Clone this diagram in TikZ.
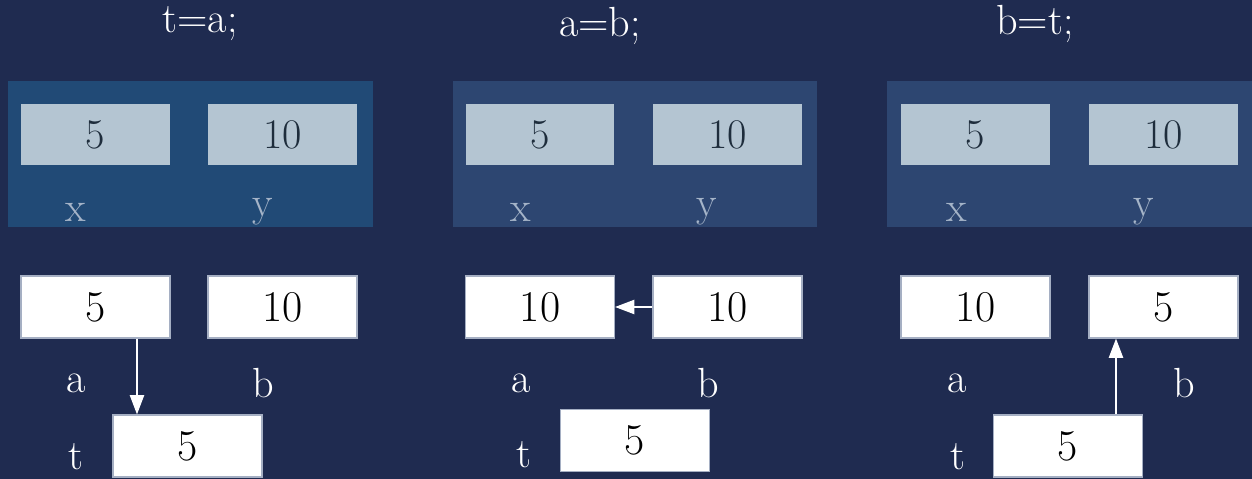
\documentclass[tikz,border=0pt]{standalone}
\usetikzlibrary{arrows.meta}
\definecolor{bgnavy}{RGB}{31,43,80}
\definecolor{panelA}{RGB}{33,74,118}
\definecolor{panelB}{RGB}{45,70,113}
\definecolor{innerfill}{RGB}{180,197,210}
\definecolor{innertext}{RGB}{30,45,60}
\definecolor{varlabel}{RGB}{165,180,200}
\definecolor{boxedge}{RGB}{165,175,195}
\tikzset{
  panel/.style={draw=none, minimum width=7.3cm, minimum height=2.92cm, inner sep=0pt},
  memcell/.style={draw=none, fill=innerfill, text=innertext, minimum width=2.98cm, minimum height=1.22cm, inner sep=0pt, font=\fontsize{24}{24}\selectfont},
  valbox/.style={draw=boxedge, line width=0.6pt, fill=white, text=black, minimum width=2.98cm, minimum height=1.24cm, inner sep=0pt, font=\fontsize{25}{25}\selectfont},
  title/.style={text=white, inner sep=0pt, font=\fontsize{24}{24}\selectfont},
  varname/.style={text=varlabel, inner sep=0pt, font=\fontsize{24}{24}\selectfont},
  valname/.style={text=white, inner sep=0pt, font=\fontsize{24}{24}\selectfont},
  arr/.style={draw=white, line width=1.2pt, -{Triangle[length=11pt,width=8pt,fill=white]}}
}
\begin{document}
\begin{tikzpicture}[x=0.02cm,y=-0.02cm]
\clip (0,0) rectangle (1252,479);
\fill[bgnavy] (0,0) rectangle (1252,479);
% titles
\node[title] (ti1) at (200,24) {t=a;};
\node[title] (ti2) at (600,26) {a=b;};
\node[title] (ti3) at (1035,24) {b=t;};
% panels
\node[panel, fill=panelA] (p1) at (190.5,154) {};
\node[panel, fill=panelB] (p2) at (635,154) {};
\node[panel, fill=panelB] (p3) at (1069.5,154) {};
% memory cells
\node[memcell] (x1) at (95.5,134.5) {5};
\node[memcell] (y1) at (282.5,134.5) {10};
\node[memcell] (x2) at (540,134.5) {5};
\node[memcell] (y2) at (727.5,134.5) {10};
\node[memcell] (x3) at (975.5,134.5) {5};
\node[memcell] (y3) at (1163.5,134.5) {10};
\node[varname] (lx1) at (76,212) {x};
\node[varname] (ly1) at (263,212) {y};
\node[varname] (lx2) at (521,212) {x};
\node[varname] (ly2) at (707,212) {y};
\node[varname] (lx3) at (957,212) {x};
\node[varname] (ly3) at (1144,212) {y};
% value boxes
\node[valbox] (a1) at (95.5,307) {5};
\node[valbox] (b1) at (282.5,307) {10};
\node[valbox] (t1) at (187.5,446) {5};
\node[valbox] (a2) at (540,307) {10};
\node[valbox] (b2) at (727.5,307) {10};
\node[valbox] (t2) at (635,440.5) {5};
\node[valbox] (a3) at (975.5,307) {10};
\node[valbox] (b3) at (1163.5,307) {5};
\node[valbox] (t3) at (1068,446) {5};
% labels
\node[valname] (la1) at (76,383) {a};
\node[valname] (lb1) at (263,383) {b};
\node[valname] (lt1) at (76,457) {t};
\node[valname] (la2) at (521,383) {a};
\node[valname] (lb2) at (708,383) {b};
\node[valname] (lt2) at (524,455) {t};
\node[valname] (la3) at (957,383) {a};
\node[valname] (lb3) at (1184,383) {b};
\node[valname] (lt3) at (958,457) {t};
% arrows
\draw[arr] (a1.south -| 137,0) -- (t1.north -| 137,0);
\draw[arr] (b2.west) -- (a2.east);
\draw[arr] (t3.north -| 1116,0) -- (b3.south -| 1116,0);
\end{tikzpicture}
\end{document}
